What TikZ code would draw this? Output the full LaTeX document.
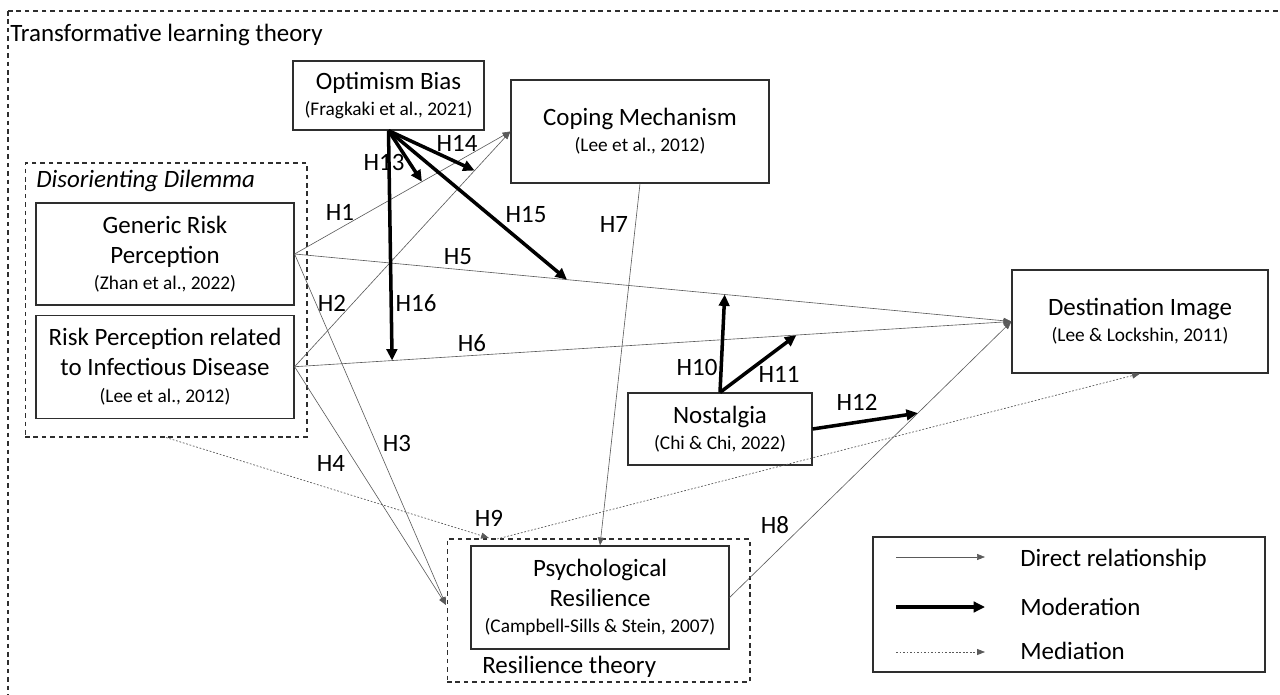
\documentclass[tikz,border=0pt]{standalone}
\usepackage{fontspec}
\setmainfont{Carlito}
\usetikzlibrary{arrows.meta, positioning, calc}
\definecolor{lineagris}{HTML}{5A5A5A}
\definecolor{cajagris}{HTML}{2E2E2E}
\newcommand{\citefont}{\fontsize{11}{13}\selectfont}

\begin{document}
\begin{tikzpicture}[
  x=0.02cm, y=-0.02cm,
  font=\fontsize{14.2}{17}\selectfont,
  caja/.style={
    rectangle, draw=cajagris, line width=0.7pt,
    align=center, inner sep=0pt, text=black
  },
  marco/.style={rectangle, draw=cajagris, line width=0.6pt,
    dash pattern=on 2.6pt off 2.2pt, inner sep=0pt},
  direct/.style={-{Triangle[length=4.5pt,width=3.4pt]}, draw=lineagris, line width=0.35pt},
  moder/.style={-{Triangle[length=6.5pt,width=6pt]}, draw=black, line width=2pt},
  medi/.style={-{Triangle[length=4.5pt,width=3.4pt]}, draw=lineagris,
    dash pattern=on 1pt off 1pt, line width=0.4pt},
  hyp/.style={inner sep=0pt}
]
  \useasboundingbox (0,0) rectangle (1280,695);
  \clip (0,0) rectangle (1280,695);

  % frames
  \draw[marco] (8,11) rectangle (1300,720);
  \node[anchor=base west, inner sep=0pt] (titulo) at (10,41.5) {Transformative learning theory};

  \node[marco, minimum width=5.64cm, minimum height=5.48cm] (dis) at (166,300) {};
  \node[anchor=base west, inner sep=0pt, font=\fontsize{14.2}{17}\selectfont\itshape] (dislab) at (36,188) {Disorienting Dilemma};

  \node[marco, minimum width=6.06cm, minimum height=2.86cm] (rthe) at (598.5,610.5) {};
  \node[anchor=base west, inner sep=0pt] (rthelab) at (482,673) {Resilience theory};

  % constructs
  \node[caja, minimum width=3.82cm, minimum height=1.38cm] (optim) at (388.5,95.5)
    {Optimism Bias\\[-2pt]{\citefont (Fragkaki et al., 2021)}};
  \node[caja, minimum width=5.16cm, minimum height=2.06cm] (coping) at (640,131.5)
    {Coping Mechanism\\[-2pt]{\citefont (Lee et al., 2012)}};
  \node[caja, minimum width=5.16cm, minimum height=2.04cm] (generic) at (165,254)
    {Generic Risk\\Perception\\[-2pt]{\citefont (Zhan et al., 2022)}};
  \node[caja, minimum width=5.16cm, minimum height=2.06cm, below=0.18cm of generic] (infect)
    {Risk Perception related\\to Infectious Disease\\[-2pt]{\citefont (Lee et al., 2012)}};
  \node[caja, minimum width=5.12cm, minimum height=2.06cm] (dest) at (1140,321.5)
    {Destination Image\\[-2pt]{\citefont (Lee \& Lockshin, 2011)}};
  \node[caja, minimum width=3.68cm, minimum height=1.44cm] (nost) at (720,429)
    {Nostalgia\\[-2pt]{\citefont (Chi \& Chi, 2022)}};
  \node[caja, minimum width=5.16cm, minimum height=2.06cm] (resil) at (600,597.5)
    {Psychological\\Resilience\\[-2pt]{\citefont (Campbell-Sills \& Stein, 2007)}};

  % direct paths
  \coordinate (rin) at (446,605);
  \draw[direct] (generic.east) -- (coping.west);
  \draw[direct] (infect.east) -- (coping.west);
  \draw[direct] (generic.east) -- (rin);
  \draw[direct] (infect.east) -- (rin);
  \draw[direct] (generic.east) -- (dest.west);
  \draw[direct] (infect.east) -- (dest.west);
  \draw[direct] (coping.south) -- (resil.north);
  \draw[direct] (resil.east) -- (dest.west);

  % mediation
  \coordinate (h9a) at (489,538);
  \coordinate (h9b) at (497,539);
  \draw[medi] (dis.south) -- (h9a);
  \draw[medi] (h9b) -- (dest.south);

  % moderation
  \coordinate (m13) at ($(generic.east)!0.59!(coping.west)$);
  \coordinate (m14) at ($(infect.east)!0.834!(coping.west)$);
  \coordinate (m15) at ($(generic.east)!0.38!(dest.west)$);
  \coordinate (m16) at ($(infect.east)!0.136!(dest.west)$);
  \coordinate (m10) at ($(generic.east)!0.60!(dest.west)$);
  \coordinate (m11) at ($(infect.east)!0.70!(dest.west)$);
  \coordinate (m12) at ($(resil.east)!0.668!(dest.west)$);
  \draw[moder] (optim.south) -- (m13);
  \draw[moder] (optim.south) -- (m14);
  \draw[moder] (optim.south) -- (m15);
  \draw[moder] (optim.south) -- (m16);
  \draw[moder] (nost.north) -- (m10);
  \draw[moder] (nost.north) -- (m11);
  \draw[moder] (nost.east) -- (m12);

  % hypotheses
  \node[hyp] (h1)  at (340,212) {H1};
  \node[hyp] (h2)  at (332,303) {H2};
  \node[hyp] (h3)  at (397,443) {H3};
  \node[hyp] (h4)  at (331,463) {H4};
  \node[hyp] (h5)  at (458,257) {H5};
  \node[hyp] (h6)  at (472,343) {H6};
  \node[hyp] (h7)  at (614,225) {H7};
  \node[hyp] (h8)  at (775,525) {H8};
  \node[hyp] (h9)  at (489,518) {H9};
  \node[hyp] (h10) at (697,367) {H10};
  \node[hyp] (h11) at (779,374) {H11};
  \node[hyp] (h12) at (857,402) {H12};
  \node[hyp] (h13) at (384,162) {H13};
  \node[hyp] (h14) at (457,143) {H14};
  \node[hyp] (h15) at (526,215) {H15};
  \node[hyp] (h16) at (416,303) {H16};

  % legend
  \node[caja, minimum width=7.84cm, minimum height=2.7cm] (leyenda) at (1069,604.5) {};
  \node[anchor=base west, inner sep=0pt] (ldir) at (1020,566) {Direct relationship};
  \node[anchor=base west, inner sep=0pt] (lmod) at (1020,615) {Moderation};
  \node[anchor=base west, inner sep=0pt] (lmed) at (1020,659) {Mediation};
  \draw[direct] ([xshift=-2.48cm,yshift=0.18cm]ldir.base west) -- ([xshift=-0.7cm,yshift=0.18cm]ldir.base west);
  \draw[moder]  ([xshift=-2.48cm,yshift=0.16cm]lmod.base west) -- ([xshift=-0.7cm,yshift=0.16cm]lmod.base west);
  \draw[medi]   ([xshift=-2.48cm,yshift=0.14cm]lmed.base west) -- ([xshift=-0.7cm,yshift=0.14cm]lmed.base west);
\end{tikzpicture}
\end{document}
